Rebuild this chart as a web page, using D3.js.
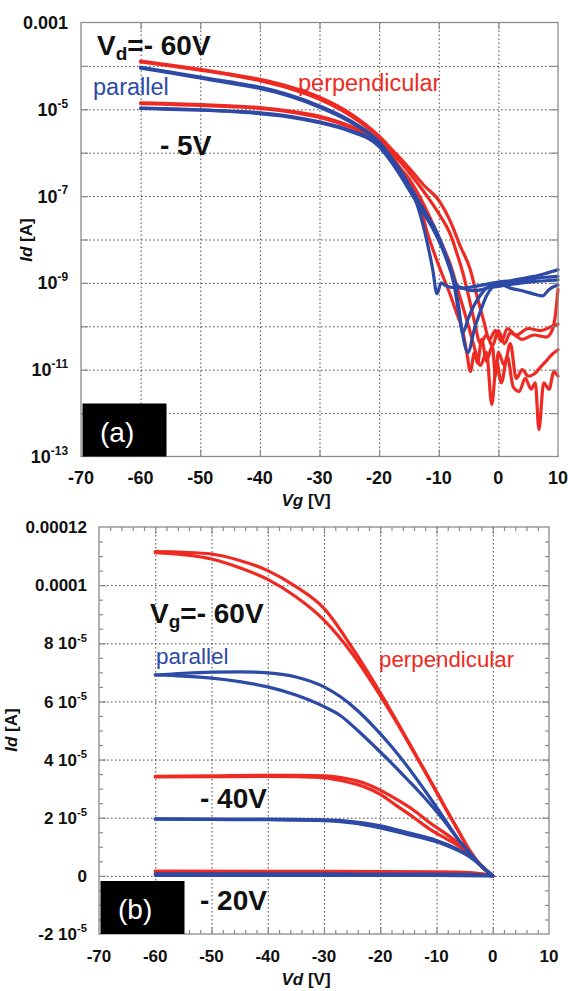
<!DOCTYPE html>
<html>
<head>
<meta charset="utf-8">
<script src="https://cdn.jsdelivr.net/npm/d3@7"></script>
<style>
  html, body { margin: 0; padding: 0; background: #fff; }
  svg { display: block; }
  text { font-family: "Liberation Sans", Arial, Helvetica, sans-serif; }
</style>
</head>
<body>
<svg id="fig" width="568" height="991"></svg>
<script>
// ---------- Panel (a): transfer characteristics, [Vg (V), Id (A)] ----------
const perpVd60a = [[-60,1.29e-4],[-55,1.05e-4],[-50,8.32e-5],[-45,6.46e-5],[-40,4.90e-5],[-35,3.31e-5],[-30,1.91e-5],[-25,8.32e-6],[-20,2.40e-6],[-17.5,1.05e-6],[-15,4.47e-7],[-12.5,1.78e-7],[-10,7.94e-8],[-8,2.51e-8],[-6.4,7.08e-9],[-4.7,2.00e-9],[-3.6,5.01e-10],[-2.5,1.41e-10],[-1.5,5.01e-11],[-0.5,7.94e-11],[0.5,4.47e-11],[1.5,8.91e-11],[3,6.31e-11],[5,8.91e-11],[7,7.94e-11],[9,1.0e-10],[10,1.12e-10]];
const perpVd60b = [[-60,1.23e-4],[-55,1.00e-4],[-50,7.94e-5],[-45,6.17e-5],[-40,4.57e-5],[-35,3.02e-5],[-30,1.70e-5],[-25,7.41e-6],[-20,2.19e-6],[-17.5,8.91e-7],[-15,3.55e-7],[-12.5,1.26e-7],[-10,3.98e-8],[-8,1.26e-8],[-7,5.01e-9],[-6,1.78e-9],[-5,5.01e-10],[-4,1.26e-10],[-3,3.98e-11],[-2,6.31e-11],[-1,3.55e-11],[0,7.94e-11],[1,3.98e-11],[2,7.08e-11],[4,5.01e-11],[6,6.31e-11],[8,5.62e-11],[9,7.94e-11],[9.6,2.00e-10],[10,7.08e-10]];
const perpVd5a = [[-60,1.41e-5],[-55,1.35e-5],[-50,1.29e-5],[-45,1.20e-5],[-40,1.10e-5],[-35,9.12e-6],[-30,6.92e-6],[-25,4.17e-6],[-20,1.74e-6],[-17.5,7.08e-7],[-15,2.00e-7],[-13,5.01e-8],[-12,1.58e-8],[-10,2.51e-9],[-8,5.01e-10],[-7,2.00e-10],[-6,7.94e-11],[-5.3,2.51e-11],[-4.7,9.12e-12],[-4,2.51e-11],[-3.5,1.41e-11],[-2.8,5.01e-11],[-2,1.58e-11],[-1,3.55e-11],[-0.5,7.08e-12],[0,2.51e-11],[1,1.26e-11],[2,3.98e-11],[3,6.31e-12],[4,1.00e-11],[5,7.08e-12],[6,7.94e-12],[7,1.12e-11],[8,1.58e-11],[9,2.24e-11],[10,2.88e-11]];
const perpVd5b = [[-60,1.35e-5],[-55,1.29e-5],[-50,1.23e-5],[-45,1.15e-5],[-40,1.05e-5],[-35,8.71e-6],[-30,6.46e-6],[-25,3.89e-6],[-20,1.62e-6],[-17.5,6.31e-7],[-15,2.51e-7],[-12.5,6.31e-8],[-10,1.12e-8],[-8,2.51e-9],[-6.5,5.01e-10],[-5,1.00e-10],[-4,3.16e-11],[-3,1.26e-11],[-2,2.51e-11],[-1.1,1.58e-12],[-0.3,1.58e-11],[0.5,5.01e-12],[1.5,2.00e-11],[2.5,3.98e-12],[3.5,3.16e-12],[4.5,6.31e-12],[5.5,3.55e-12],[6.2,5.01e-12],[6.8,4.17e-13],[7.6,5.01e-12],[8.5,3.55e-12],[9.3,8.91e-12],[10,7.08e-12]];
const parVd60a = [[-60,9.33e-5],[-55,7.24e-5],[-50,5.50e-5],[-45,4.27e-5],[-40,3.24e-5],[-35,2.14e-5],[-30,1.20e-5],[-25,5.62e-6],[-20,1.78e-6],[-17.5,6.31e-7],[-15,1.78e-7],[-13.5,5.62e-8],[-12.3,1.41e-8],[-11,2.00e-9],[-10.3,5.62e-10],[-9.6,1.00e-9],[-9,8.91e-10],[-8,7.94e-10],[-6,7.59e-10],[-4,8.32e-10],[-2,9.33e-10],[0,1.05e-9],[2,1.12e-9],[4,1.26e-9],[6,1.41e-9],[8,1.66e-9],[10,2.00e-9]];
const parVd60b = [[-60,8.91e-5],[-55,6.92e-5],[-50,5.25e-5],[-45,3.98e-5],[-40,3.02e-5],[-35,2.00e-5],[-30,1.12e-5],[-25,5.25e-6],[-20,1.66e-6],[-17.5,5.62e-7],[-15,1.78e-7],[-13,6.31e-8],[-11,2.00e-8],[-9,5.01e-9],[-7.5,1.26e-9],[-6.6,2.51e-10],[-6,7.08e-11],[-5,1.58e-10],[-4,3.16e-10],[-3,5.25e-10],[-2,7.59e-10],[0,9.55e-10],[2,1.05e-9],[4,1.12e-9],[6,1.26e-9],[8,1.35e-9],[10,1.41e-9]];
const parVd5a = [[-60,1.07e-5],[-55,1.02e-5],[-50,9.77e-6],[-45,9.12e-6],[-40,8.32e-6],[-35,6.92e-6],[-30,5.13e-6],[-25,3.31e-6],[-20,1.48e-6],[-17.5,5.01e-7],[-15,1.41e-7],[-13,5.01e-8],[-11,1.78e-8],[-9,4.47e-9],[-7.5,1.00e-9],[-6.5,1.58e-10],[-5.1,2.51e-11],[-4,8.91e-11],[-3,2.24e-10],[-2,5.01e-10],[-1,7.94e-10],[0,9.55e-10],[2,7.59e-10],[4,6.61e-10],[6,5.50e-10],[7.4,5.01e-10],[8.5,7.08e-10],[10,8.91e-10]];
const parVd5b = [[-60,1.05e-5],[-55,1.00e-5],[-50,9.55e-6],[-45,8.91e-6],[-40,7.94e-6],[-35,6.61e-6],[-30,4.90e-6],[-25,3.16e-6],[-20,1.38e-6],[-17.5,5.01e-7],[-15,1.58e-7],[-13,5.01e-8],[-11,2.24e-8],[-9.5,7.94e-9],[-8,2.00e-9],[-7,8.91e-10],[-6,7.59e-10],[-5,6.92e-10],[-4,6.61e-10],[-3,6.92e-10],[-2,7.59e-10],[0,8.32e-10],[2,9.12e-10],[4,1.00e-9],[6,1.07e-9],[8,1.12e-9],[10,1.17e-9]];

// ---------- Panel (b): output characteristics, [Vd (V), Id (A)] ----------
const perpVg60a = [[-60,1.115e-4],[-55,1.113e-4],[-50,1.107e-4],[-45,1.085e-4],[-40,1.05e-4],[-35,9.95e-5],[-30,9.2e-5],[-25,7.85e-5],[-20,6.3e-5],[-17,5.3e-5],[-15,4.62e-5],[-10,2.9e-5],[-8,2.2e-5],[-6,1.52e-5],[-4,8.4e-6],[-2,3.4e-6],[0,0]];
const perpVg60b = [[-60,1.112e-4],[-55,1.105e-4],[-50,1.09e-4],[-45,1.06e-4],[-40,1.02e-4],[-35,9.6e-5],[-30,8.8e-5],[-25,7.65e-5],[-20,6.2e-5],[-17,5.25e-5],[-15,4.58e-5],[-10,2.88e-5],[-8,2.18e-5],[-6,1.5e-5],[-4,8.3e-6],[-2,3.3e-6],[0,0]];
const perpVg40a = [[-60,3.42e-5],[-50,3.44e-5],[-40,3.46e-5],[-35,3.46e-5],[-30,3.44e-5],[-27,3.38e-5],[-23,3.2e-5],[-20,2.95e-5],[-17,2.62e-5],[-14,2.25e-5],[-11,1.8e-5],[-8,1.4e-5],[-6,1.1e-5],[-4,7.5e-6],[-2,3.3e-6],[0,0]];
const perpVg40b = [[-60,3.4e-5],[-50,3.41e-5],[-40,3.42e-5],[-35,3.41e-5],[-30,3.37e-5],[-27,3.28e-5],[-23,3.07e-5],[-20,2.8e-5],[-17,2.4e-5],[-14,2.0e-5],[-11,1.58e-5],[-8,1.25e-5],[-6,1.02e-5],[-4,7.2e-6],[-2,3.2e-6],[0,0]];
const perpVg20a = [[-60,1.6e-6],[-30,1.55e-6],[-10,1.4e-6],[-4,1.1e-6],[-2,7e-7],[0,0]];
const perpVg20b = [[-60,1.3e-6],[-30,1.25e-6],[-10,1.15e-6],[-4,9e-7],[-2,6e-7],[0,0]];
const parVg60a = [[-60,6.91e-5],[-55,6.97e-5],[-50,7.01e-5],[-45,7.02e-5],[-40,6.98e-5],[-35,6.84e-5],[-30,6.5e-5],[-27,6.15e-5],[-24,5.68e-5],[-21,5.1e-5],[-18,4.45e-5],[-15,3.72e-5],[-12,2.92e-5],[-9,2.08e-5],[-6,1.22e-5],[-4,7.6e-6],[-2,3.4e-6],[0,0]];
const parVg60b = [[-60,6.91e-5],[-55,6.87e-5],[-50,6.8e-5],[-45,6.68e-5],[-40,6.5e-5],[-35,6.22e-5],[-30,5.82e-5],[-27,5.5e-5],[-24,5.0e-5],[-21,4.45e-5],[-18,3.88e-5],[-15,3.28e-5],[-12,2.66e-5],[-9,1.98e-5],[-6,1.22e-5],[-4,7.6e-6],[-2,3.3e-6],[0,0]];
const parVg40a = [[-60,1.96e-5],[-50,1.95e-5],[-40,1.95e-5],[-30,1.93e-5],[-25,1.87e-5],[-20,1.72e-5],[-15,1.48e-5],[-10,1.22e-5],[-8,1.07e-5],[-6,8.9e-6],[-4,6.6e-6],[-2,3.4e-6],[0,0]];
const parVg40b = [[-60,1.95e-5],[-50,1.94e-5],[-40,1.93e-5],[-30,1.9e-5],[-25,1.82e-5],[-20,1.65e-5],[-15,1.42e-5],[-10,1.17e-5],[-8,1.03e-5],[-6,8.6e-6],[-4,6.4e-6],[-2,3.3e-6],[0,0]];
const parVg20a = [[-60,7e-7],[-30,6.5e-7],[-10,6e-7],[-4,5e-7],[0,0]];
const parVg20b = [[-60,2e-7],[-30,2e-7],[-10,2e-7],[0,0]];

// ---------- Axis ticks and labels ----------
const xTickVals = [-70,-60,-50,-40,-30,-20,-10,0,10];
const aYGridVals = [1e-12,1e-11,1e-10,1e-9,1e-8,1e-7,1e-6,1e-5,1e-4];
const aYTickVals = [1e-3,1e-5,1e-7,1e-9,1e-11,1e-13];
const aYTickBase = ["0.001","10","10","10","10","10"];
const aYTickSup  = ["","-5","-7","-9","-11","-13"];
const bYTickVals = [1.2e-4,1e-4,8e-5,6e-5,4e-5,2e-5,0,-2e-5];
const bYTickBase = ["0.00012","0.0001","8 10","6 10","4 10","2 10","0","-2 10"];
const bYTickSup  = ["","","-5","-5","-5","-5","","-5"];

const RED = "#ee2a22";
const BLUE = "#2c4aa6";
const FRAME = "#8a8a8a";
const GRID = "#4a4a4a";

const svg = d3.select("#fig");

// text helper: parts = [{t, size, dy, italic, weight}]
function addText(g, x, y, parts, o = {}) {
  const t = g.append("text")
    .attr("x", x).attr("y", y)
    .attr("text-anchor", o.anchor || "start")
    .attr("fill", o.fill || "#111")
    .attr("font-weight", o.weight || "bold")
    .attr("font-size", o.size || 16);
  parts.forEach(p => {
    const s = t.append("tspan").text(p.t);
    if (p.size) s.attr("font-size", p.size);
    if (p.dy) s.attr("dy", p.dy);
    if (p.italic) s.attr("font-style", "italic");
    if (p.weight) s.attr("font-weight", p.weight);
  });
  return t;
}

function styleGrid(sel) {
  sel.select(".domain").remove();
  sel.selectAll(".tick line")
    .attr("stroke", GRID).attr("stroke-width", 1).attr("stroke-dasharray", "1.6,2.4");
}
function styleTicks(sel) {
  sel.select(".domain").remove();
  sel.selectAll(".tick line").attr("stroke", FRAME).attr("stroke-width", 1.2);
}

function drawPanel(cfg) {
  const { x, y, xGrid, yGrid } = cfg;
  const [x0, x1] = x.range();
  const [y0, y1] = y.range(); // y0 bottom, y1 top
  const g = svg.append("g");
  const w = x1 - x0, h = y0 - y1;

  // dotted grid
  g.append("g").attr("transform", `translate(0,${y1})`)
    .call(d3.axisBottom(x).tickValues(xGrid).tickSize(h).tickFormat(""))
    .call(styleGrid);
  g.append("g").attr("transform", `translate(${x0},0)`)
    .call(d3.axisRight(y).tickValues(yGrid).tickSize(w).tickFormat(""))
    .call(styleGrid);

  // curves
  const line = d3.line().x(d => x(d[0])).y(d => y(d[1])).curve(d3.curveMonotoneX);
  const curves = g.append("g").attr("fill", "none").attr("stroke-width", 3.2)
    .attr("stroke-linejoin", "round").attr("stroke-linecap", "round");
  cfg.red.forEach(s => curves.append("path").attr("d", line(s)).attr("stroke", RED));
  cfg.blue.forEach(s => curves.append("path").attr("d", line(s)).attr("stroke", BLUE));

  // inward ticks on all four sides
  const ticks = g.append("g");
  const tl = cfg.tickLen;
  const sides = [
    [d3.axisBottom, `translate(0,${y0})`, x, xGrid, cfg.xMinor],
    [d3.axisTop, `translate(0,${y1})`, x, xGrid, cfg.xMinor],
    [d3.axisLeft, `translate(${x0},0)`, y, yGrid, cfg.yMinor],
    [d3.axisRight, `translate(${x1},0)`, y, yGrid, cfg.yMinor]
  ];
  sides.forEach(([ax, tr, sc, major, minor]) => {
    ticks.append("g").attr("transform", tr)
      .call(ax(sc).tickValues(major).tickSize(-tl).tickFormat("")).call(styleTicks);
    if (minor) ticks.append("g").attr("transform", tr)
      .call(ax(sc).tickValues(minor).tickSize(-4).tickFormat("")).call(styleTicks);
  });

  // frame
  g.append("rect").attr("x", x0).attr("y", y1).attr("width", w).attr("height", h)
    .attr("fill", "none").attr("stroke", FRAME).attr("stroke-width", 1.3);

  // panel tag box
  g.append("rect").attr("x", x0 + 1.5).attr("y", y0 - 53).attr("width", 84).attr("height", 53)
    .attr("fill", "#000");
  addText(g, x0 + 19, y0 - 15, [{ t: cfg.tag }], { fill: "#fff", weight: "normal", size: 28 });

  // tick labels
  xTickVals.forEach(v => addText(g, x(v), cfg.xLabelY, [{ t: String(v) }],
    { anchor: "middle", size: cfg.tickSize }));
  cfg.yTickVals.forEach((v, i) => {
    const parts = [{ t: cfg.yTickBase[i] }];
    if (cfg.yTickSup[i]) parts.push({ t: cfg.yTickSup[i], size: cfg.tickSize * 0.66, dy: -cfg.tickSize * 0.45 });
    addText(g, cfg.yLabelX, y(v) + cfg.tickSize * 0.36, parts, { anchor: "end", size: cfg.tickSize });
  });

  // axis titles
  addText(g, cfg.xTitle[0], cfg.xTitle[1],
    [{ t: cfg.xVar, italic: true }, { t: " [V]" }], { anchor: "middle", size: 17 });
  const yt = g.append("g").attr("transform", `translate(${cfg.yTitle[0]},${cfg.yTitle[1]}) rotate(-90)`);
  addText(yt, 0, 0, [{ t: "Id", italic: true }, { t: " [A]" }], { anchor: "middle", size: 17 });
  return g;
}

// ---------- Panel (a) ----------
const xa = d3.scaleLinear().domain([-70, 10]).range([81, 558]);
const ya = d3.scaleLog().domain([1e-13, 1e-3]).range([456.5, 22.5]);
const ga = drawPanel({
  x: xa, y: ya,
  xGrid: [-60, -50, -40, -30, -20, -10, 0], yGrid: aYGridVals,
  red: [perpVd60a, perpVd60b, perpVd5a, perpVd5b],
  blue: [parVd60a, parVd60b, parVd5a, parVd5b],
  tickLen: 7, tag: "(a)",
  xLabelY: 484, yLabelX: 68, tickSize: 18,
  yTickVals: aYTickVals, yTickBase: aYTickBase, yTickSup: aYTickSup,
  xVar: "Vg", xTitle: [306, 506], yTitle: [32, 240]
});
addText(ga, 97, 55, [{ t: "V" }, { t: "d", size: 19, dy: 5 }, { t: "=- 60V", dy: -5 }], { size: 28 });
addText(ga, 160, 155, [{ t: "- 5V" }], { size: 28 });
addText(ga, 93, 95, [{ t: "parallel" }], { size: 23.5, weight: "normal", fill: BLUE });
addText(ga, 298, 91, [{ t: "perpendicular" }], { size: 23.5, weight: "normal", fill: RED });

// ---------- Panel (b) ----------
const xb = d3.scaleLinear().domain([-70, 10]).range([99, 549]);
const yb = d3.scaleLinear().domain([-2e-5, 1.2e-4]).range([934, 527]);
const bXMinor = d3.range(-68, 10, 2).filter(v => v % 10 !== 0);
const bYMinor = d3.range(-15, 120, 5).filter(v => v % 20 !== 0).map(v => v * 1e-6);
const gb = drawPanel({
  x: xb, y: yb,
  xGrid: [-60, -50, -40, -30, -20, -10, 0], yGrid: [1e-4, 8e-5, 6e-5, 4e-5, 2e-5, 0],
  xMinor: bXMinor, yMinor: bYMinor,
  red: [perpVg60a, perpVg60b, perpVg40a, perpVg40b, perpVg20a, perpVg20b],
  blue: [parVg60a, parVg60b, parVg40a, parVg40b, parVg20a, parVg20b],
  tickLen: 7, tag: "(b)",
  xLabelY: 962, yLabelX: 87, tickSize: 17,
  yTickVals: bYTickVals, yTickBase: bYTickBase, yTickSup: bYTickSup,
  xVar: "Vd", xTitle: [306, 985], yTitle: [17, 730]
});
addText(gb, 150, 623, [{ t: "V" }, { t: "g", size: 19, dy: 5 }, { t: "=- 60V", dy: -5 }], { size: 28 });
addText(gb, 200, 808, [{ t: "- 40V" }], { size: 28 });
addText(gb, 200, 910, [{ t: "- 20V" }], { size: 28 });
addText(gb, 156, 664, [{ t: "parallel" }], { size: 22.5, weight: "normal", fill: BLUE });
addText(gb, 379, 667, [{ t: "perpendicular" }], { size: 22.3, weight: "normal", fill: RED });
</script>
</body>
</html>
